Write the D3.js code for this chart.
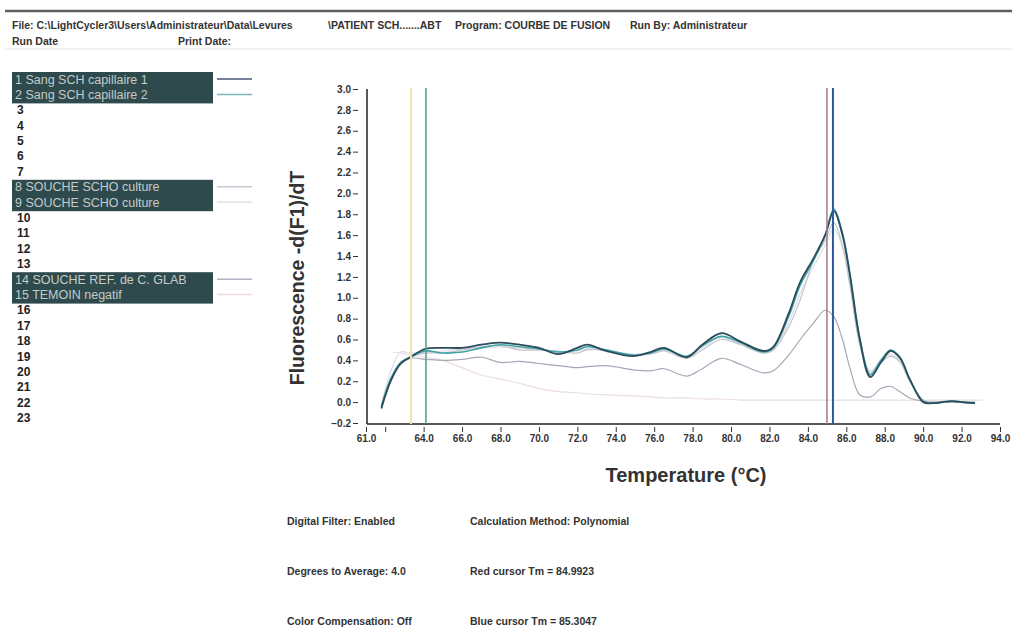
<!DOCTYPE html>
<html>
<head>
<meta charset="utf-8">
<script src="https://cdn.jsdelivr.net/npm/d3@7"></script>
<style>
  body { margin: 0; background: #fff; }
  svg { display: block; font-family: "Liberation Sans", Arial, sans-serif; }
</style>
</head>
<body>
<div id="chart"></div>
<script>
// temperatures (°C) shared by all series
const temps = [61.8, 62.3, 62.8, 63.3, 64.1, 65, 66, 67, 68, 69, 70, 71, 72, 72.5, 73.5, 74.9, 75.8, 76.5, 77.7, 78.5,
  79.5, 80.5, 81.7, 82.2, 83, 83.6, 84.3, 84.9, 85.35, 85.8, 86.2, 86.7, 87.25, 87.8, 88.3, 88.8, 89.3, 90, 90.5, 91,
  91.5, 92, 92.7, 93.1];

const sang1 = [-0.06, 0.21, 0.37, 0.43, 0.51, 0.52, 0.52, 0.55, 0.57, 0.55, 0.52, 0.46, 0.52, 0.55, 0.49, 0.44, 0.48, 0.52, 0.43, 0.55,
  0.66, 0.58, 0.49, 0.53, 0.85, 1.15, 1.38, 1.6, 1.83, 1.6, 1.2, 0.6, 0.24, 0.38, 0.49, 0.42, 0.22, 0.0, -0.01, 0.0,
  0.01, 0.0, -0.01, null];
const sang2 = [-0.04, 0.23, 0.38, 0.43, 0.49, 0.47, 0.48, 0.52, 0.55, 0.53, 0.51, 0.48, 0.5, 0.53, 0.5, 0.45, 0.47, 0.51, 0.44, 0.54,
  0.63, 0.57, 0.48, 0.52, 0.82, 1.12, 1.36, 1.6, 1.85, 1.62, 1.22, 0.62, 0.26, 0.4, 0.5, 0.43, 0.22, 0.01, -0.01, 0.0,
  0.01, 0.0, -0.01, null];
const souche8 = [-0.04, 0.22, 0.37, 0.43, 0.47, 0.47, 0.5, 0.53, 0.54, 0.5, 0.5, 0.49, 0.47, 0.5, 0.5, 0.45, 0.46, 0.49, 0.42, 0.5,
  0.6, 0.55, 0.47, 0.5, 0.72, 0.98, 1.36, 1.55, 1.72, 1.5, 1.1, 0.55, 0.28, 0.38, 0.44, 0.38, 0.2, 0.02, 0.0, 0.0,
  0.0, 0.0, 0.0, null];
const souche9 = [-0.03, 0.3, 0.48, 0.47, 0.48, 0.49, 0.51, 0.52, 0.53, 0.52, 0.5, 0.48, 0.49, 0.51, 0.49, 0.46, 0.47, 0.5, 0.44, 0.52,
  0.62, 0.56, 0.48, 0.51, 0.76, 1.04, 1.3, 1.5, 1.66, 1.48, 1.12, 0.58, 0.3, 0.4, 0.46, 0.4, 0.21, 0.02, 0.01, 0.0,
  0.0, 0.0, 0.0, null];
const souche14 = [-0.05, 0.2, 0.36, 0.42, 0.41, 0.4, 0.41, 0.43, 0.38, 0.39, 0.37, 0.35, 0.33, 0.34, 0.35, 0.31, 0.3, 0.32, 0.25, 0.32,
  0.42, 0.36, 0.28, 0.3, 0.45, 0.6, 0.76, 0.88, 0.82, 0.6, 0.32, 0.07, 0.05, 0.13, 0.15, 0.1, 0.04, 0.01, 0.0, 0.0,
  0.0, 0.0, 0.0, null];
const temoin15 = [null, 0.48, 0.47, 0.45, 0.43, 0.4, 0.33, 0.26, 0.22, 0.18, 0.13, 0.1, 0.09, 0.08, 0.07, 0.06, 0.05, 0.04, 0.04, 0.03,
  0.03, 0.02, 0.02, 0.02, 0.02, 0.02, 0.02, 0.02, 0.02, 0.02, 0.02, 0.02, 0.02, 0.02, 0.02, 0.02, 0.02, 0.02, 0.02, 0.02,
  0.02, 0.02, 0.02, 0.02];

const sampleNames = ['1 Sang SCH capillaire 1', '2 Sang SCH capillaire 2', '3', '4', '5', '6', '7',
  '8 SOUCHE SCHO culture', '9 SOUCHE SCHO culture', '10', '11', '12', '13',
  '14 SOUCHE REF. de C. GLAB', '15 TEMOIN negatif', '16', '17', '18', '19', '20', '21', '22', '23'];

// draw order: pale ones first, dark sample 1 on top
const series = [
  { slot: 8, values: souche9, color: '#dcdde6', legend: '#e2e2ea', width: 1.2 },
  { slot: 14, values: temoin15, color: '#ecdde2', legend: '#eadce2', width: 1.2 },
  { slot: 13, values: souche14, color: '#a9a6b6', legend: '#b4b2c4', width: 1.2 },
  { slot: 7, values: souche8, color: '#c2c3cc', legend: '#c8c8d6', width: 1.2 },
  { slot: 1, values: sang2, color: '#3fa4a6', legend: '#7fb2bc', width: 1.6 },
  { slot: 0, values: sang1, color: '#2c4c5c', legend: '#4a5878', width: 1.8 }
];

const cursors = [
  { t: 63.34, color: '#ece3b0', width: 2 },
  { t: 64.12, color: '#4f9c92', width: 1.5 },
  { t: 84.9923, color: '#a57888', width: 1.5 },
  { t: 85.3047, color: '#2a5a9c', width: 2 }
];

const yTicks = d3.range(-0.2, 3.01, 0.2).map(v => +v.toFixed(1));
const xTicks = [61, 62, 64, 66, 68, 70, 72, 74, 76, 78, 80, 82, 84, 86, 88, 90, 92, 94];

const header1 = [
  { x: 12, text: 'File: C:\\LightCycler3\\Users\\Administrateur\\Data\\Levures' },
  { x: 328, text: '\\PATIENT SCH.......ABT' },
  { x: 455, text: 'Program: COURBE DE FUSION' },
  { x: 630, text: 'Run By: Administrateur' }
];
const header2 = [
  { x: 12, text: 'Run Date' },
  { x: 178, text: 'Print Date:' }
];
const footer = [
  ['Digital Filter: Enabled', 'Calculation Method: Polynomial'],
  ['Degrees to Average: 4.0', 'Red cursor Tm = 84.9923'],
  ['Color Compensation: Off', 'Blue cursor Tm = 85.3047']
];

const width = 1012, height = 629;
const svg = d3.select('#chart').append('svg')
  .attr('width', width)
  .attr('height', height);

// header
svg.append('line').attr('x1', 5).attr('x2', width).attr('y1', 11).attr('y2', 11)
  .attr('stroke', '#5e5e5e').attr('stroke-width', 2.5);
svg.append('line').attr('x1', 5).attr('x2', width).attr('y1', 49).attr('y2', 49)
  .attr('stroke', '#e2e2e2').attr('stroke-width', 1);
svg.append('g').selectAll('text').data(header1).enter().append('text')
  .attr('x', d => d.x).attr('y', 29)
  .attr('font-size', '10.5px').attr('font-weight', 'bold').attr('fill', '#333')
  .text(d => d.text);
svg.append('g').selectAll('text').data(header2).enter().append('text')
  .attr('x', d => d.x).attr('y', 45)
  .attr('font-size', '10.5px').attr('font-weight', 'bold').attr('fill', '#333')
  .text(d => d.text);

// sample list
const rowH = 15.4, row0 = 79;
const rowY = i => row0 + i * rowH;
const blocks = [[0, 1], [7, 8], [13, 14]];
svg.append('g').selectAll('rect').data(blocks).enter().append('rect')
  .attr('x', 12).attr('width', 201)
  .attr('y', d => rowY(d[0]) - 7)
  .attr('height', d => rowY(d[1]) - rowY(d[0]) + 16)
  .attr('fill', '#2f4a4c');
const named = new Set(blocks.flat());
svg.append('g').selectAll('text').data(sampleNames).enter().append('text')
  .attr('x', (d, i) => named.has(i) ? 15 : 17)
  .attr('y', (d, i) => rowY(i))
  .attr('dy', '0.36em')
  .attr('font-size', (d, i) => named.has(i) ? '12.5px' : '12px')
  .attr('font-weight', (d, i) => named.has(i) ? 'normal' : 'bold')
  .attr('fill', (d, i) => named.has(i) ? '#c3caca' : '#222')
  .text(d => d);
svg.append('g').selectAll('line').data(series).enter().append('line')
  .attr('x1', 217).attr('x2', 252)
  .attr('y1', d => rowY(d.slot)).attr('y2', d => rowY(d.slot))
  .attr('stroke', d => d.legend).attr('stroke-width', 1.5);

// scales
const x = d3.scaleLinear().domain([61, 94]).range([366, 1000]);
const y = d3.scaleLinear().domain([-0.2, 3.0]).range([423, 89]);

// y axis
svg.append('g')
  .attr('transform', 'translate(358,0)')
  .call(d3.axisLeft(y).tickValues(yTicks).tickSize(5).tickPadding(2).tickFormat(d3.format('.1f')))
  .call(g => g.select('.domain').remove())
  .call(g => g.selectAll('line').attr('stroke', '#333'))
  .call(g => g.selectAll('text').attr('font-size', '10px').attr('font-weight', 'bold').attr('fill', '#333')
    .attr('font-family', '"Liberation Sans", Arial, sans-serif'));

// x axis
svg.append('g')
  .attr('transform', 'translate(0,427)')
  .call(d3.axisBottom(x).tickValues(xTicks).tickSize(5).tickPadding(3)
    .tickFormat(d => d === 62 ? '' : d.toFixed(1)))
  .call(g => g.select('.domain').remove())
  .call(g => g.selectAll('line').attr('stroke', '#333'))
  .call(g => g.selectAll('text').attr('font-size', '10px').attr('font-weight', 'bold').attr('fill', '#333')
    .attr('font-family', '"Liberation Sans", Arial, sans-serif'));

svg.append('line').attr('x1', x(61) + 1).attr('x2', x(61) + 1).attr('y1', y(3.0)).attr('y2', y(-0.2) + 1)
  .attr('stroke', '#222').attr('stroke-width', 1.5);
svg.append('line').attr('x1', x(61) + 1).attr('x2', x(94)).attr('y1', y(-0.2) + 1).attr('y2', y(-0.2) + 1)
  .attr('stroke', '#222').attr('stroke-width', 1.5);

// curves
const line = d3.line()
  .defined(d => d[1] !== null)
  .x(d => x(d[0]))
  .y(d => y(d[1]))
  .curve(d3.curveCatmullRom.alpha(0.5));

svg.append('g').selectAll('path').data(series).enter().append('path')
  .attr('d', d => line(temps.map((t, i) => [t, d.values[i]])))
  .attr('fill', 'none')
  .attr('stroke', d => d.color)
  .attr('stroke-width', d => d.width)
  .attr('stroke-linejoin', 'round');

// cursors
svg.append('g').selectAll('line').data(cursors).enter().append('line')
  .attr('x1', d => x(d.t)).attr('x2', d => x(d.t))
  .attr('y1', y(3.0) - 1).attr('y2', y(-0.2) + 1)
  .attr('stroke', d => d.color).attr('stroke-width', d => d.width);

// axis titles
svg.append('text')
  .attr('transform', 'translate(304,278) rotate(-90)')
  .attr('text-anchor', 'middle')
  .attr('font-size', '19.5px').attr('font-weight', 'bold').attr('fill', '#333')
  .text('Fluorescence -d(F1)/dT');
svg.append('text')
  .attr('x', 686).attr('y', 482)
  .attr('text-anchor', 'middle')
  .attr('font-size', '20px').attr('font-weight', 'bold').attr('fill', '#333')
  .text('Temperature (°C)');

// footer
footer.forEach((row, r) => {
  svg.append('g').selectAll('text').data(row).enter().append('text')
    .attr('x', (d, i) => i === 0 ? 287 : 470)
    .attr('y', 525 + r * 50)
    .attr('font-size', '10.5px').attr('font-weight', 'bold').attr('fill', '#333')
    .text(d => d);
});
</script>
</body>
</html>
